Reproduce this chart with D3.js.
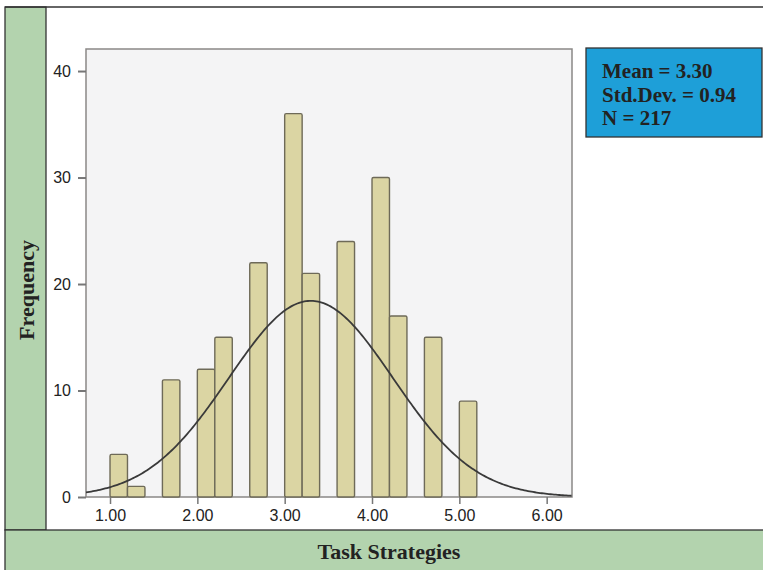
<!DOCTYPE html>
<html lang="en">
<head>
<meta charset="utf-8">
<style>
  body { margin: 0; background: #fff; }
  .tick_text { font-family: "Liberation Sans", Arial, sans-serif; font-size: 16px; fill: #222; }
  .title_text { font-family: "Liberation Serif", "Times New Roman", serif; font-size: 22px; font-weight: bold; fill: #222; }
  .stat_text { font-family: "Liberation Serif", "Times New Roman", serif; font-size: 21px; font-weight: bold; fill: #222; }
</style>
</head>
<body>
<div id="chart"></div>
<script src="https://cdn.jsdelivr.net/npm/d3@7"></script>
<script>
// histogram bins (lower edge, width 0.2) and counts
var binStarts = [1.0, 1.2, 1.6, 2.0, 2.2, 2.6, 3.0, 3.2, 3.6, 4.0, 4.2, 4.6, 5.0];
var counts    = [4, 1, 11, 12, 15, 22, 36, 21, 24, 30, 17, 15, 9];
var binWidth = 0.2;
var xTicks = [1, 2, 3, 4, 5, 6];
var yTicks = [0, 10, 20, 30, 40];
var stats = ["Mean = 3.30", "Std.Dev. = 0.94", "N = 217"];
var mean = 3.30, sd = 0.94, n = 217;

var W = 763, H = 570;
var svg = d3.select("#chart").append("svg").attr("width", W).attr("height", H);

// frame and green strips
svg.append("rect").attr("x", 5).attr("y", 7).attr("width", 41).attr("height", 523)
  .attr("fill", "#b3d3ae").attr("stroke", "#333").attr("stroke-width", 1.3);
svg.append("rect").attr("x", 5).attr("y", 530).attr("width", 760).attr("height", 45)
  .attr("fill", "#b3d3ae").attr("stroke", "#333").attr("stroke-width", 1.3);
svg.append("line").attr("x1", 5).attr("x2", 763).attr("y1", 7).attr("y2", 7)
  .attr("stroke", "#333").attr("stroke-width", 1.3);

var x = d3.scaleLinear().domain([0.725, 6.29]).range([86, 572]);
var y = d3.scaleLinear().domain([0, 42.07]).range([497, 49]);

// plot background
svg.append("rect").attr("x", x.range()[0]).attr("y", y.range()[1])
  .attr("width", x.range()[1] - x.range()[0]).attr("height", y.range()[0] - y.range()[1])
  .attr("fill", "#f4f4f5").attr("stroke", "#8a8886").attr("stroke-width", 1.5);

// bars
svg.selectAll(".bar").data(binStarts).enter().append("rect")
  .attr("class", "bar")
  .attr("x", function(d) { return x(d); })
  .attr("y", function(d, i) { return y(counts[i]); })
  .attr("width", function(d) { return x(d + binWidth) - x(d); })
  .attr("height", function(d, i) { return y(0) - y(counts[i]); })
  .attr("rx", 1.5)
  .attr("fill", "#dbd5a3").attr("stroke", "#6e6a58").attr("stroke-width", 1.4);

// normal curve
var xs = d3.range(x.domain()[0], x.domain()[1] + 0.001, 0.02);
var curve = d3.line()
  .x(function(d) { return x(d); })
  .y(function(d) {
    var z = (d - mean) / sd;
    return y(n * binWidth / (sd * Math.sqrt(2 * Math.PI)) * Math.exp(-0.5 * z * z));
  });
svg.append("path").datum(xs).attr("d", curve)
  .attr("fill", "none").attr("stroke", "#3a3a3a").attr("stroke-width", 1.8);

// axes
var yAxis = svg.append("g").attr("transform", "translate(86,0)")
  .call(d3.axisLeft(y).tickValues(yTicks).tickSize(8).tickFormat(d3.format("d")));
yAxis.select(".domain").remove();
yAxis.selectAll("line").attr("stroke", "#777").attr("stroke-width", 2);
yAxis.selectAll("text").attr("class", "tick_text").attr("x", -15);

var xAxis = svg.append("g").attr("transform", "translate(0,497)")
  .call(d3.axisBottom(x).tickValues(xTicks).tickSize(7).tickFormat(d3.format(".2f")));
xAxis.select(".domain").remove();
xAxis.selectAll("line").attr("stroke", "#777").attr("stroke-width", 1.5);
xAxis.selectAll("text").attr("class", "tick_text").attr("y", 13);

// titles
svg.append("text").attr("class", "title_text")
  .attr("transform", "translate(34,290) rotate(-90)")
  .attr("text-anchor", "middle").text("Frequency");
svg.append("text").attr("class", "title_text")
  .attr("x", 389).attr("y", 559).attr("text-anchor", "middle").text("Task Strategies");

// stats box
svg.append("rect").attr("x", 586).attr("y", 48).attr("width", 176).attr("height", 89)
  .attr("fill", "#1e9fd8").attr("stroke", "#333").attr("stroke-width", 1.3);
svg.selectAll(".stat").data(stats).enter().append("text")
  .attr("class", "stat_text")
  .attr("x", 602).attr("y", function(d, i) { return 78 + i * 23.5; })
  .text(function(d) { return d; });
</script>
</body>
</html>
